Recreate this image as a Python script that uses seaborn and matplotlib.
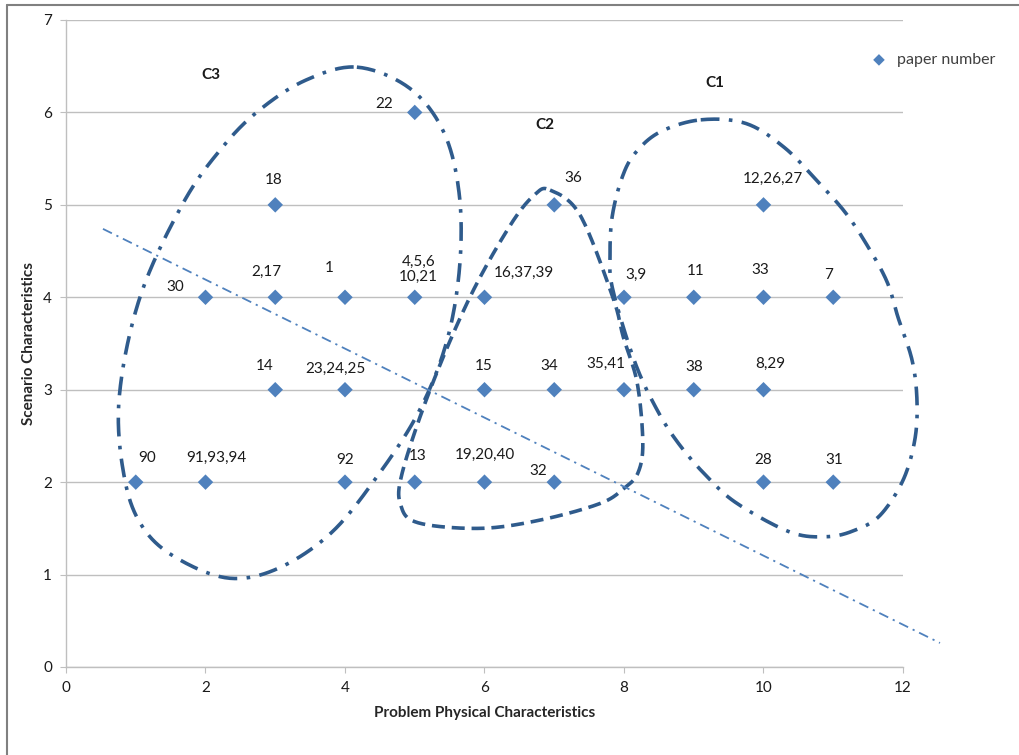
"""
Scatter of papers by problem / scenario characteristics with cluster outlines.
"""

import matplotlib
matplotlib.use('Agg')
import matplotlib.pyplot as plt
import numpy as np
import pandas
import seaborn as sns

# Data points: (problem physical characteristics, scenario characteristics)
x_values = [1, 2, 4, 5, 6, 7, 10, 11,
            3, 4, 6, 7, 8, 9, 10,
            2, 3, 4, 5, 6, 8, 9, 10, 11,
            3, 7, 10,
            5]
y_values = [2, 2, 2, 2, 2, 2, 2, 2,
            3, 3, 3, 3, 3, 3, 3,
            4, 4, 4, 4, 4, 4, 4, 4, 4,
            5, 5, 5,
            6]
paper_labels = ['90', '91,93,94', '92', '13', '19,20,40', '32', '28', '31',
                '14', '23,24,25', '15', '34', '35,41', '38', '8,29',
                '30', '2,17', '1', '4,5,6\n10,21', '16,37,39', '3,9', '11',
                '33', '7',
                '18', '36', '12,26,27',
                '22']

# Label offsets (pixels) relative to each point
label_offsets = [(11, 24), (11, 24), (0, 22), (3, 26), (0, 27), (-16, 11),
                 (0, 22), (1, 22),
                 (-11, 24), (-10, 21), (-1, 24), (-5, 24), (-18, 26), (0, 23),
                 (7, 26),
                 (-30, 10), (-9, 25), (-16, 29), (4, 28), (39, 24), (12, 22),
                 (2, 26), (-3, 27), (-5, 22),
                 (-2, 25), (19, 27), (9, 26),
                 (-31, 8)]

# Hand-drawn cluster outlines (control points, data units)
c3_outline_x = [4.17, 4.93, 5.42, 5.64, 5.64, 5.45, 5.05, 4.45, 3.80, 3.05,
                2.35, 1.63, 1.13, 0.85, 0.76, 1.06, 1.68, 2.25, 2.78, 3.44]
c3_outline_y = [6.49, 6.26, 5.78, 5.10, 4.30, 3.50, 2.75, 2.05, 1.45, 1.07,
                0.96, 1.16, 1.48, 2.00, 2.89, 4.00, 5.02, 5.63, 6.03, 6.35]
c2_outline_x = [6.94, 7.37, 7.84, 7.99, 8.19, 8.27, 8.20, 8.01, 7.66, 6.80,
                5.94, 5.05, 4.80, 4.82, 5.22, 5.79, 6.37, 6.72]
c2_outline_y = [5.16, 4.89, 4.00, 3.57, 3.07, 2.42, 2.10, 1.94, 1.77, 1.59,
                1.50, 1.56, 1.75, 2.10, 3.00, 4.00, 4.78, 5.11]
c1_outline_x = [9.10, 9.75, 10.30, 10.78, 11.17, 11.48, 11.77, 11.93, 12.13,
                12.20, 12.17, 12.00, 11.67, 11.31, 10.91, 10.38, 9.62, 9.19,
                8.80, 8.49, 8.16, 7.84, 7.80, 7.83, 7.97, 8.16, 8.52]
c1_outline_y = [5.92, 5.88, 5.62, 5.25, 4.92, 4.57, 4.17, 3.78, 3.32, 2.89,
                2.46, 2.02, 1.64, 1.48, 1.41, 1.46, 1.77, 2.06, 2.40, 2.76,
                3.29, 4.08, 4.44, 4.87, 5.29, 5.56, 5.79]

# Dividing line end points
divider_x = [0.53, 12.53]
divider_y = [4.74, 0.26]

cluster_names = ['C3', 'C2', 'C1']
cluster_name_x = [2.07, 6.87, 9.3]
cluster_name_y = [6.40, 5.86, 6.32]


def closed_spline(xs, ys, samples=20):
    """Periodic Catmull-Rom spline through the given control points."""
    pts = np.column_stack([xs, ys])
    n = len(pts)
    out = []
    for i in range(n):
        p0, p1, p2, p3 = pts[i - 1], pts[i], pts[(i + 1) % n], pts[(i + 2) % n]
        for t in np.linspace(0, 1, samples, endpoint=False):
            t2, t3 = t * t, t * t * t
            out.append(0.5 * ((2 * p1) + (-p0 + p2) * t
                              + (2 * p0 - 5 * p1 + 4 * p2 - p3) * t2
                              + (-p0 + 3 * p1 - 3 * p2 + p3) * t3))
    out.append(out[0])
    out = np.array(out)
    return out[:, 0], out[:, 1]


def main():
    sns.set_style('white')
    plt.rcParams['font.family'] = ['Lato', 'DejaVu Sans']

    points = pandas.DataFrame({'x': x_values, 'y': y_values,
                               'label': paper_labels})

    fig = plt.figure(figsize=(10.2, 7.55), dpi=100)
    ax = fig.add_axes([66 / 1020, 88 / 755, 837 / 1020, 647 / 755])

    marker_color = '#4f81bd'
    outline_color = '#2f5b8c'

    sns.scatterplot(data=points, x='x', y='y', marker='D', s=62,
                    color=marker_color, edgecolor='none',
                    label='paper number', ax=ax, zorder=4)

    for row, (dx, dy) in zip(points.itertuples(), label_offsets):
        ax.annotate(row.label, (row.x, row.y), xytext=(dx, dy),
                    textcoords='offset pixels', ha='center', va='center',
                    fontsize=11, color='#1a1a1a', linespacing=1.1,
                    zorder=5)

    dashdot = (0, (5.2, 2.6, 1.0, 2.6))
    for xs, ys, style in [(c3_outline_x, c3_outline_y, dashdot),
                          (c2_outline_x, c2_outline_y, (0, (3.6, 1.9))),
                          (c1_outline_x, c1_outline_y, dashdot)]:
        sx, sy = closed_spline(xs, ys)
        ax.plot(sx, sy, color=outline_color, lw=2.6, linestyle=style,
                clip_on=False, zorder=3)

    ax.plot(divider_x, divider_y, color=marker_color, lw=1.3,
            linestyle=(0, (5.5, 2.8, 1.2, 2.8)), clip_on=False, zorder=3)

    for name, nx, ny in zip(cluster_names, cluster_name_x, cluster_name_y):
        ax.text(nx, ny, name, fontsize=11, fontweight='bold',
                ha='center', va='center', color='#1a1a1a')

    ax.set_xlim(0, 12)
    ax.set_ylim(0, 7)
    ax.set_xticks(range(0, 13, 2))
    ax.set_yticks(range(0, 8))
    ax.yaxis.grid(True, color='#bfbfbf', lw=1.0)
    ax.xaxis.grid(False)
    ax.set_axisbelow(True)
    for side in ['top', 'right']:
        ax.spines[side].set_visible(False)
    for side in ['left', 'bottom']:
        ax.spines[side].set_color('#bfbfbf')
        ax.spines[side].set_linewidth(1.0)
    ax.tick_params(axis='both', length=4, color='#bfbfbf', labelsize=11,
                   labelcolor='#1a1a1a', direction='out', pad=6,
                   bottom=True, left=True)

    ax.set_xlabel('Problem Physical Characteristics', fontsize=11,
                  fontweight='bold', labelpad=8)
    ax.set_ylabel('Scenario Characteristics', fontsize=11,
                  fontweight='bold', labelpad=5)

    ax.legend(loc='center left', bbox_to_anchor=(855 / 1020, 1 - 60 / 755),
              bbox_transform=fig.transFigure, frameon=False, fontsize=11.5,
              handletextpad=0.1, markerscale=0.75, borderpad=0,
              labelcolor='#404040')

    # Screenshot-style frame on top and left
    fig.add_artist(plt.Line2D([7 / 1020, 7 / 1020], [0, 1 - 5 / 755],
                              transform=fig.transFigure, color='#808080',
                              lw=1.5))
    fig.add_artist(plt.Line2D([7 / 1020, 1], [1 - 5 / 755, 1 - 5 / 755],
                              transform=fig.transFigure, color='#808080',
                              lw=1.5))

    fig.savefig('out.png', dpi=100)


if __name__ == '__main__':
    main()
